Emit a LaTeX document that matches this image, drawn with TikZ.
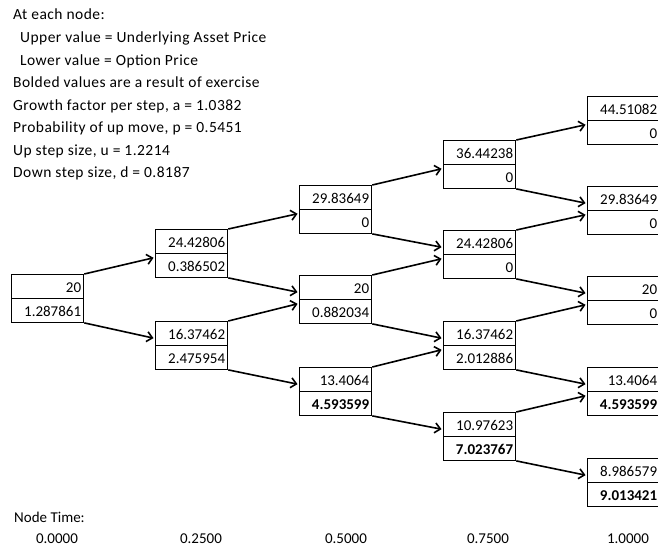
\documentclass[tikz,border=0pt]{standalone}
\usepackage{fontspec}
\setmainfont{Carlito}
\usetikzlibrary{shapes.multipart,arrows.meta}
\newcommand{\cellstrut}{\rule[-5.5pt]{0pt}{22.5pt}}
\begin{document}
\begin{tikzpicture}[x=1pt,y=1pt,
  tbox/.style={rectangle split, rectangle split parts=2, draw, line width=1.3pt,
    text width=67pt, align=right, inner xsep=2.5pt, inner ysep=0pt,
    anchor=north west, font=\fontsize{15}{16}\selectfont},
  arr/.style={line width=1.6pt, -{Straight Barb[length=5.5pt,width=10pt]}, shorten >=1.5pt},
  lbl/.style={anchor=base west, inner sep=0pt, font=\fontsize{15.5}{17}\selectfont\addfontfeature{LetterSpace=3}},
  tlbl/.style={anchor=base, inner sep=0pt, font=\fontsize{15}{17}\selectfont}]
\useasboundingbox (0,0) rectangle (658,547);
\clip (0,0) rectangle (658,547);
% header
\node[lbl] (h1) at (13,527) {At each node:};
\node[lbl] (h2) at (20,504) {Upper value = Underlying Asset Price};
\node[lbl] (h3) at (20,481) {Lower value = Option Price};
\node[lbl] (h4) at (13,459) {Bolded values are a result of exercise};
\node[lbl] (h5) at (13,436) {Growth factor per step, a = 1.0382};
\node[lbl] (h6) at (13,414) {Probability of up move, p = 0.5451};
\node[lbl] (h7) at (13,391) {Up step size, u = 1.2214};
\node[lbl] (h8) at (13,369) {Down step size, d = 0.8187};
% nodes
\node[tbox] (c0a) at (11,273) {\cellstrut 20\nodepart{two}\cellstrut 1.287861};
\node[tbox] (c1a) at (155,318) {\cellstrut 24.42806\nodepart{two}\cellstrut 0.386502};
\node[tbox] (c1b) at (155,226) {\cellstrut 16.37462\nodepart{two}\cellstrut 2.475954};
\node[tbox] (c2a) at (299,362) {\cellstrut 29.83649\nodepart{two}\cellstrut 0};
\node[tbox] (c2b) at (299,272) {\cellstrut 20\nodepart{two}\cellstrut 0.882034};
\node[tbox] (c2c) at (299,180) {\cellstrut 13.4064\nodepart{two}\cellstrut\textbf{4.593599}};
\node[tbox] (c3a) at (443,407) {\cellstrut 36.44238\nodepart{two}\cellstrut 0};
\node[tbox] (c3b) at (443,317) {\cellstrut 24.42806\nodepart{two}\cellstrut 0};
\node[tbox] (c3c) at (443,226) {\cellstrut 16.37462\nodepart{two}\cellstrut 2.012886};
\node[tbox] (c3d) at (443,135) {\cellstrut 10.97623\nodepart{two}\cellstrut\textbf{7.023767}};
\node[tbox] (c4a) at (587,451) {\cellstrut 44.51082\nodepart{two}\cellstrut 0};
\node[tbox] (c4b) at (587,361) {\cellstrut 29.83649\nodepart{two}\cellstrut 0};
\node[tbox] (c4c) at (587,271) {\cellstrut 20\nodepart{two}\cellstrut 0};
\node[tbox] (c4d) at (587,180) {\cellstrut 13.4064\nodepart{two}\cellstrut\textbf{4.593599}};
\node[tbox] (c4e) at (587,89) {\cellstrut 8.986579\nodepart{two}\cellstrut\textbf{9.013421}};
% arrows
\foreach \a/\b in {c0a/c1a, c1a/c2a, c1b/c2b, c2a/c3a, c2b/c3b, c2c/c3c,
                   c3a/c4a, c3b/c4b, c3c/c4c, c3d/c4d}
  \draw[arr] (\a.north east) -- ([yshift=-4pt]\b.west);
\foreach \a/\b in {c0a/c1b, c1a/c2b, c1b/c2c, c2a/c3b, c2b/c3c, c2c/c3d,
                   c3a/c4b, c3b/c4c, c3c/c4d, c3d/c4e}
  \draw[arr] (\a.south east) -- ([yshift=7pt]\b.west);
% time labels
\node[tlbl, anchor=base west] (nt) at (14,25) {Node Time:};
\node[tlbl] (t0) at (57,4) {0.0000};
\node[tlbl] (t1) at (201,4) {0.2500};
\node[tlbl] (t2) at (346,4) {0.5000};
\node[tlbl] (t3) at (488,4) {0.7500};
\node[tlbl] (t4) at (628,4) {1.0000};
\end{tikzpicture}
\end{document}
